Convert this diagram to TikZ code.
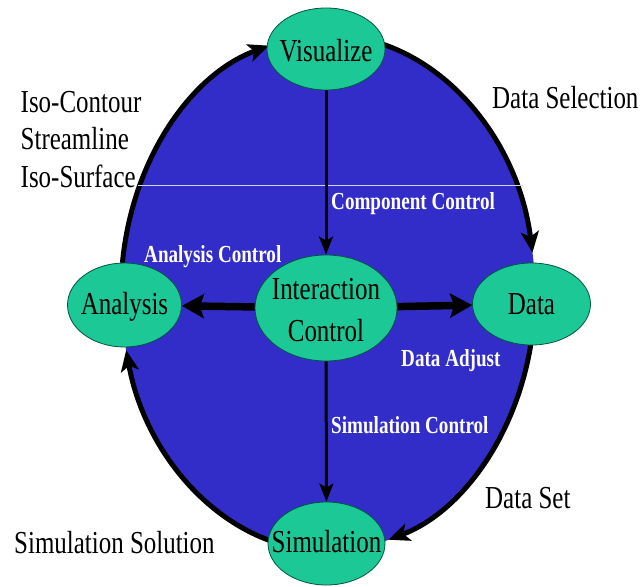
\documentclass[tikz,border=0pt]{standalone}
\usepackage{fontspec}
\usepackage{graphicx}
\setmainfont{Liberation Serif}
\usetikzlibrary{arrows.meta,shapes.geometric,calc}
\definecolor{fieldblue}{RGB}{50,45,200}
\definecolor{stagegreen}{RGB}{28,200,150}
\definecolor{stagerim}{RGB}{0,85,65}
\pgfdeclarelayer{back}
\pgfsetlayers{back,main}
% condensed setting of a label
\newcommand{\cnd}[1]{\scalebox{0.78}[1]{#1}}

\begin{document}
\begin{tikzpicture}[x=1pt,y=1pt,
  stage/.style={ellipse, fill=stagegreen, draw=stagerim, line width=0.8pt, inner sep=0pt},
  stagetext/.style={font=\rmfamily\fontsize{32}{38}\selectfont, text=black, anchor=base, inner sep=0pt},
  sidetext/.style={font=\rmfamily\fontsize{32}{38}\selectfont, text=black, anchor=base west, inner sep=0pt},
  flowtext/.style={font=\rmfamily\bfseries\fontsize{24.5}{28}\selectfont, text=white, anchor=base west, inner sep=0pt},
  cycleedge/.style={line width=5pt, -{Stealth[length=21pt,width=18pt,inset=5pt]}},
  thinflow/.style={line width=3pt, -{Stealth[length=18pt,width=14pt,inset=4pt]}},
  thickflow/.style={line width=7.5pt, -{Stealth[length=22pt,width=24pt,inset=4pt]}},
]
\useasboundingbox (0,0) rectangle (644,586);

% stages of the cycle
\node[stage, minimum width=118pt, minimum height=82pt] (vis) at (326,537) {};
\node[stage, minimum width=142pt, minimum height=106pt] (ic) at (326,278) {};
\node[stage, minimum width=114pt, minimum height=84pt] (ana) at (124.5,281) {};
\node[stage, minimum width=118pt, minimum height=82pt] (dat) at (531.5,282) {};
\node[stage, minimum width=117pt, minimum height=83pt] (sim) at (326.5,42.5) {};

% stage names
\node[stagetext] (vis-t) at (326,524) {\cnd{Visualize}};
\node[stagetext] (ana-t) at (124.5,271) {\cnd{Analysis}};
\node[stagetext] (dat-t) at (531.5,271) {\cnd{Data}};
\node[stagetext] (ic-t1) at (326,286) {\cnd{Interaction}};
\node[stagetext] (ic-t2) at (326,244) {\cnd{Control}};
\node[stagetext] (sim-t) at (326.5,34) {\cnd{Simulation}};

% blue field and the outer cycle
\begin{pgfonlayer}{back}
  \coordinate (ctr) at (328,293);
  \fill[fieldblue] (ctr) ellipse [x radius=207, y radius=258];
  \coordinate (cA) at ($(ctr)+(173.3:207 and 258)$);
  \coordinate (cB) at ($(ctr)+(76:207 and 258)$);
  \coordinate (cC) at ($(ctr)+(-11.6:207 and 258)$);
  \coordinate (cD) at ($(ctr)+(-106.5:207 and 258)$);
  \draw[cycleedge] (cA) arc[start angle=173.3, end angle=106.5, x radius=207, y radius=258];
  \draw[cycleedge] (cB) arc[start angle=76, end angle=9, x radius=207, y radius=258];
  \draw[cycleedge] (cC) arc[start angle=-11.6, end angle=-73, x radius=207, y radius=258];
  \draw[cycleedge] (cD) arc[start angle=-106.5, end angle=-167.2, x radius=207, y radius=258];
\end{pgfonlayer}

% thin light rule across the upper field
\coordinate (ruleL) at (138,401);
\coordinate (ruleR) at (523,401);
\draw[white!80!fieldblue, line width=0.7pt] (ruleL) -- (ruleR);

% control flows from the central stage
\draw[thinflow] (vis) -- (ic);
\draw[thinflow] (ic) -- (sim);
\draw[thickflow] (ic) -- (ana);
\draw[thickflow] (ic) -- (dat);

% flow labels inside the field
\node[flowtext] (l-comp) at (331,376) {\cnd{Component Control}};
\node[flowtext] (l-anac) at (144,323) {\cnd{Analysis Control}};
\node[flowtext] (l-adj) at (401,219) {\cnd{Data Adjust}};
\node[flowtext] (l-simc) at (331,153) {\cnd{Simulation Control}};

% labels outside the field
\node[sidetext] (s-iso1) at (20.5,473) {\cnd{Iso-Contour}};
\node[sidetext] (s-str) at (20.5,436) {\cnd{Streamline}};
\node[sidetext] (s-iso2) at (20.5,398) {\cnd{Iso-Surface}};
\node[sidetext] (s-dsel) at (492,477) {\cnd{Data Selection}};
\node[sidetext] (s-dset) at (485,78) {\cnd{Data Set}};
\node[sidetext] (s-ssol) at (14,33) {\cnd{Simulation Solution}};
\end{tikzpicture}
\end{document}
